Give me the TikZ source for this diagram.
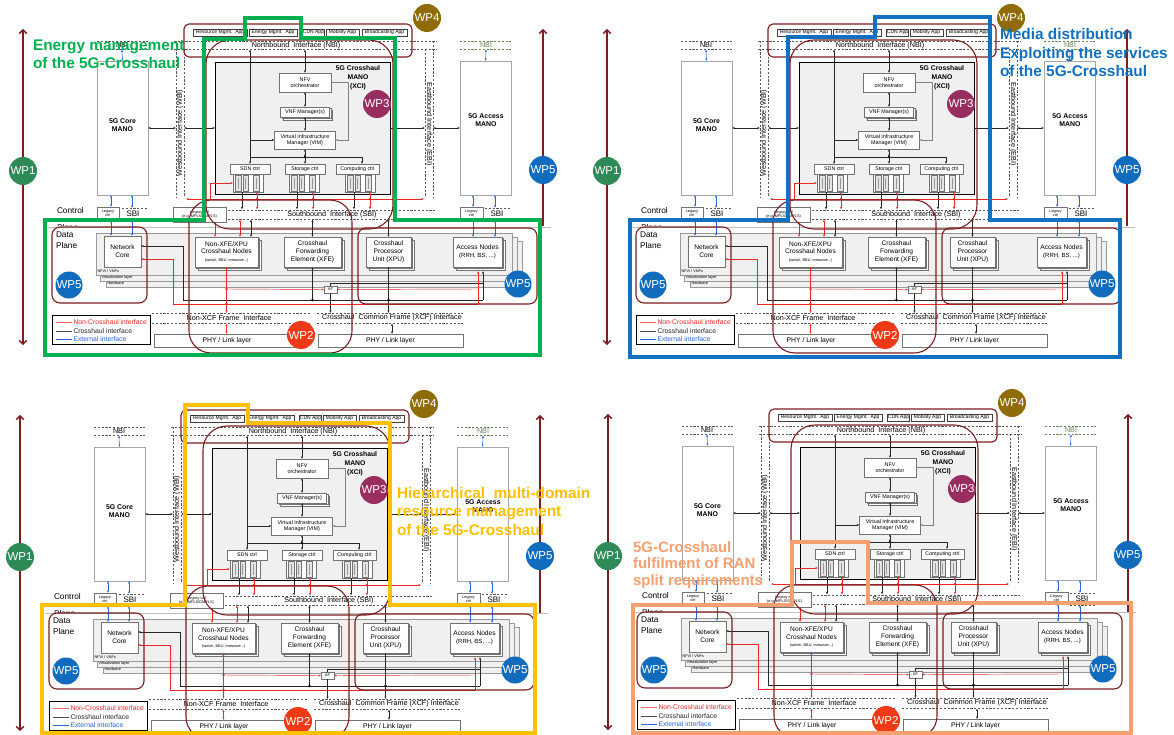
\documentclass[tikz,border=0pt]{standalone}
\usepackage{fontspec}
\setmainfont{Liberation Sans}
\usetikzlibrary{arrows.meta,shadows}

\definecolor{wpline}{RGB}{122,30,32}
\definecolor{wpone}{RGB}{46,139,87}
\definecolor{wptwo}{RGB}{240,58,23}
\definecolor{wpthree}{RGB}{152,45,96}
\definecolor{wpfour}{RGB}{143,108,8}
\definecolor{wpfive}{RGB}{18,108,190}
\definecolor{ncred}{RGB}{235,40,40}
\definecolor{extblue}{RGB}{40,100,220}
\definecolor{hlgreen}{RGB}{0,176,80}
\definecolor{hlblue}{RGB}{18,112,192}
\definecolor{hlgold}{RGB}{255,192,0}
\definecolor{hlsalmon}{RGB}{246,160,112}
\definecolor{nbigreen}{RGB}{110,135,90}

\newcommand\fsz[2]{\fontsize{#1}{#2}\selectfont}

\tikzset{
  every node/.style={inner sep=0pt,outer sep=0pt},
  wparrow/.style={wpline,line width=1.5pt,{Straight Barb[length=3.5pt,width=7.5pt]}-{Straight Barb[length=3.5pt,width=7.5pt]}},
  wp/.style={circle,minimum size=28pt,text=white,font=\fsz{11.5}{12}},
  wpzone/.style={draw=wpline,line width=1.1pt,rounded corners=#1},
  gbox/.style={draw=black!55,fill=white,line width=0.45pt,align=center},
  stackbox/.style={gbox,double copy shadow={shadow xshift=1.6pt,shadow yshift=-1.6pt}},
  app/.style={draw=black!75,fill=white,line width=0.4pt,minimum height=7.5pt,font=\fsz{5}{6}},
  iface/.style={black!65,line width=0.5pt,dash pattern=on 2.2pt off 1.6pt},
  conn/.style={black!85,line width=0.45pt},
  arr/.style={-{Latex[length=2.4pt,width=2.2pt]}},
  darr/.style={{Latex[length=2.4pt,width=2.2pt]}-{Latex[length=2.4pt,width=2.2pt]}},
  redc/.style={ncred,line width=0.45pt},
  bluec/.style={extblue,line width=0.5pt},
  lbl/.style={font=\fsz{7.2}{8}},
  plane/.style={anchor=west,font=\fsz{8.3}{9}},
  hlline/.style={line width=4pt},
  hltext/.style={font=\fsz{15.4}{18}\bfseries,anchor=base west},
}

% three plug-in modules under a controller
\newcommand\plugs[1]{%
  \draw[black!55,fill=white,line width=0.4pt] (#1-15,174) rectangle (#1+15,192);
  \foreach \dx in {-12.5,-5,5.5}{%
    \draw[black!55,fill=black!10,line width=0.35pt] (#1+\dx,175.5) rectangle (#1+\dx+5.5,191);
    \draw[black!40,line width=1pt] (#1+\dx+2.75,178) -- (#1+\dx+2.75,189);
  }%
}

% one complete 5G-Crosshaul architecture panel; #1 prefixes the node names
\newcommand\xhpanel[1]{%
  % work-package axes
  \coordinate (#1la) at (23,29);  \coordinate (#1lb) at (23,345);
  \coordinate (#1ra) at (543,29); \coordinate (#1rb) at (543,345);
  \draw[wparrow] (#1lb) -- (#1la);
  \draw[wparrow] (#1rb) -- (#1ra);
  % control plane label, data plane area
  \node[plane] (#1cpa) at (57,211) {Control};
  \node[plane] (#1cpb) at (57,228) {Plane};
  \fill[white] (47,226.5) rectangle (553,354);
  \draw[black!25,line width=0.5pt] (48,227) -- (551,227);
  \node[plane] (#1dpa) at (56,235) {Data};
  \node[plane] (#1dpb) at (56,245.5) {Plane};
  % NFVI layers
  \draw[black!40,fill=black!6,line width=0.4pt] (106,241) rectangle (522,287);
  \draw[black!40,fill=black!6,line width=0.4pt] (100,237) rectangle (517,281);
  \draw[black!40,fill=black!6,line width=0.4pt] (96,233) rectangle (512,275);
  \node[anchor=west,font=\fsz{3.8}{4}] (#1nfvi) at (97.5,271.3) {NFVI / VNFs};
  \node[anchor=west,font=\fsz{3.8}{4}] (#1virt) at (101.5,277.6) {Virtualization layer};
  \node[anchor=west,font=\fsz{3.8}{4}] (#1hw) at (107.5,283.6) {Hardware};
  % applications and northbound interface
  \node[app,minimum width=54pt] (#1ap1) at (220,32.5) {Resource Mgmt.\ \ App};
  \node[app,minimum width=48pt] (#1ap2) at (273,32.5) {Energy Mgmt.\ \ App};
  \node[app,minimum width=22pt] (#1ap3) at (313.5,32.5) {CDN App};
  \node[app,minimum width=33pt] (#1ap4) at (342.5,32.5) {Mobility App};
  \node[app,minimum width=45pt] (#1ap5) at (384.5,32.5) {Broadcasting App};
  \draw[iface] (174,41) -- (437,41);
  \draw[iface] (174,49) -- (437,49);
  \node[lbl] (#1nbi) at (296,45.3) {Northbound\ \ Interface (NBI)};
  \draw[iface] (97,41) -- (148,41);
  \draw[iface] (97,49) -- (148,49);
  \node[lbl] (#1nbic) at (122,45.3) {NBI};
  \draw[iface,draw=nbigreen] (460,41) -- (511,41);
  \draw[iface,draw=nbigreen] (460,49) -- (511,49);
  \node[lbl,text=nbigreen] (#1nbia) at (486,45.3) {NBI};
  % west- and east-bound interfaces
  \draw[iface] (176,41) -- (176,197);
  \draw[iface] (184,49) -- (184,197);
  \node[lbl,rotate=90] (#1wbi) at (180,133) {Westbound Interface (WBI)};
  \draw[iface] (425,49) -- (425,197);
  \draw[iface] (433,41) -- (433,197);
  \node[lbl,rotate=-90] (#1ebi) at (429,124) {Eastbound Interface (EBI)};
  % core and access MANO
  \node[gbox,draw=black!35,minimum width=51pt,minimum height=134pt] (#1core) at (122.5,128) {};
  \node[font=\bfseries\fsz{6.9}{8.4},align=center] (#1coret) at (122.5,125) {5G Core\\MANO};
  \node[gbox,draw=black!35,minimum width=51pt,minimum height=134pt] (#1acc) at (485.5,128) {};
  \node[font=\bfseries\fsz{6.9}{8.4},align=center] (#1acct) at (486,120) {5G Access\\MANO};
  % crosshaul MANO (XCI)
  \node[draw=black,line width=0.9pt,fill=black!6,minimum width=175pt,minimum height=132pt] (#1xci) at (302.5,128) {};
  \node[font=\bfseries\fsz{6.8}{8.8},align=center] (#1xcit) at (358,77.5) {5G Crosshaul\\MANO\\(XCI)};
  \node[gbox,minimum width=52pt,minimum height=19pt,font=\fsz{5.4}{6.4}] (#1nfv) at (305,82.5) {NFV\\orchestrator};
  \node[stackbox,minimum width=49pt,minimum height=10pt,font=\fsz{5.4}{6.4}] (#1vnf) at (305,112) {VNF Manager(s)};
  \node[gbox,minimum width=61pt,minimum height=18pt,font=\fsz{5.4}{6.4}] (#1vim) at (305,140) {Virtual Infrastructure\\Manager (VIM)};
  \node[gbox,minimum width=40pt,minimum height=10pt,font=\fsz{5.3}{6}] (#1sdn) at (250,169) {SDN ctrl};
  \node[gbox,minimum width=40pt,minimum height=10pt,font=\fsz{5.3}{6}] (#1sto) at (305,169) {Storage ctrl};
  \node[gbox,minimum width=43pt,minimum height=10pt,font=\fsz{5.3}{6}] (#1cmp) at (357.5,169) {Computing ctrl};
  \plugs{248}\plugs{304}\plugs{360}
  \coordinate (#1nbix) at (305,49.5);
  \coordinate (#1nbis) at (250,49.5);
  \coordinate (#1bus) at (305,157);
  \draw[conn,darr] (#1nbix) -- (#1nfv.north);
  \draw[conn,darr] (#1nfv.south) -- (#1vnf.north);
  \draw[conn,darr] (#1vnf.south) -- (#1vim.north);
  \draw[conn,black!50,arr] (#1nfv.east) -- (348,82.5) -- (348,140) -- (#1vim.east);
  \draw[conn,darr] (#1nbis) -- (#1sdn.north);
  \draw[conn,arr] (250,140) -- (#1vim.west);
  \draw[conn] (250,157) -- (362,157);
  \draw[conn,darr] (#1bus) -- (#1vim.south);
  \fill (#1bus) circle (1.3);
  \draw[conn,arr] (#1bus) -- (#1sto.north);
  \draw[conn,arr] (362,157) -- (362,164);
  % MANO to WBI / EBI
  \draw[conn,darr] (#1core.east) -- (176,128);
  \draw[conn,darr] (184,128) -- (#1xci.west);
  \draw[conn,arr] (#1xci.east) -- (425,128);
  \draw[conn,darr] (433,128) -- (#1acc.west);
  % controllers down to the southbound interface
  \foreach \bx/\rx in {242/257,297/313,354/370}{%
    \draw[conn,arr] (\bx,192) -- (\bx,209.5);
    \draw[redc,darr] (\rx,192) -- (\rx,209.5);
    \fill[ncred] (\rx,199) circle (1.3);
  }
  \draw[redc,darr] (186,199) -- (424,199);
  \draw[redc,arr] (210,199) -- (210,183) -- (233,183);
  % southbound interface and legacy controllers
  \draw[iface] (228,210) -- (437,210);
  \draw[iface] (228,219) -- (437,219);
  \node[lbl] (#1sbi) at (332,214.8) {Southbound\ \ Interface (SBI)};
  \node[gbox,minimum width=53pt,minimum height=15pt,font=\fsz{3.8}{4.4}] (#1lgm) at (199.5,214.5) {Legacy ctrl\\(e.g.\ MPLS/GMPLS)};
  \node[gbox,minimum width=22pt,minimum height=13pt,font=\fsz{3.8}{4.4}] (#1lgc) at (108,213.5) {Legacy\\ctrl};
  \draw[iface] (122,208) -- (148,208);
  \draw[iface] (122,220) -- (148,220);
  \node[font=\fsz{8}{9}] (#1sbic) at (133,214) {SBI};
  \node[gbox,minimum width=23pt,minimum height=12pt,font=\fsz{3.8}{4.4}] (#1lga) at (471.5,213) {Legacy\\ctrl};
  \draw[iface] (485,208) -- (511,208);
  \draw[iface] (485,220) -- (511,220);
  \node[font=\fsz{8}{9}] (#1sbia) at (497,214) {SBI};
  % external (blue) interfaces
  \draw[bluec,darr] (122,49.5) -- (#1core.north);
  \draw[bluec,darr] (486,49.5) -- (#1acc.north);
  \draw[bluec,darr] (111,195) -- (111,207);
  \draw[bluec,darr] (111,220) -- (111,236);
  \draw[bluec,darr] (132,195) -- (132,208);
  \draw[bluec,darr] (132,220) -- (132,236);
  \draw[bluec,darr] (473,195) -- (473,207);
  \draw[bluec,darr] (473,219) -- (473,237);
  \draw[bluec,darr] (495,195) -- (495,208);
  \draw[bluec,darr] (495,220) -- (495,237);
  % data plane nodes
  \node[gbox,minimum width=37pt,minimum height=31pt,font=\fsz{6.6}{7.8}] (#1nc) at (122.5,251.5) {Network\\Core};
  \node[stackbox,minimum width=63pt,minimum height=30pt,font=\fsz{6.6}{7.8}] (#1nx) at (226.5,252) {Non-XFE/XPU\\Crosshaul Nodes\\{\fsz{3.8}{4.4}(switch, BBU, mmwave...)}};
  \node[stackbox,minimum width=57pt,minimum height=30pt,font=\fsz{6.6}{7.8}] (#1xfe) at (312.5,252) {Crosshaul\\Forwarding\\Element (XFE)};
  \node[stackbox,minimum width=45pt,minimum height=30pt,font=\fsz{6.6}{7.8}] (#1xpu) at (388.5,252) {Crosshaul\\Processor\\Unit (XPU)};
  \node[stackbox,minimum width=49pt,minimum height=30pt,font=\fsz{6.6}{7.8}] (#1an) at (477.5,252) {Access Nodes\\{\fsz{6}{7}(RRH, BS, ...)}};
  \draw[redc,darr] (215,222) -- (#1nx.north -| 215,0);
  \draw[redc,darr] (240,219.5) -- (240,237);
  \draw[conn,darr] (251,219.5) -- (251,237);
  \draw[conn,darr] (312.5,219.5) -- (#1xfe.north);
  \draw[conn,darr] (388.5,219.5) -- (#1xpu.north);
  \node[gbox,minimum width=13pt,minimum height=6.5pt,font=\fsz{4}{4.5}] (#1af) at (330.5,289.5) {AF};
  % crosshaul (black) data plane wiring
  \draw[conn,arr] (483,300) -- (183,300) -- (183,246) -- ([yshift=5.5pt]#1nc.east);
  \draw[conn,arr] (483,300) -- (483,271);
  \draw[conn,arr] (312.5,300) -- (#1xfe.south);
  \fill (312.5,300) circle (1.3);
  \draw[conn,arr] (#1xpu.south) -- (388.5,313);
  \fill (388.5,300) circle (1.3);
  \draw[conn] (#1af.north) -- (330.5,283) -- (483,283);
  \draw[conn,arr] (#1af.south) -- (330.5,313);
  % non-crosshaul (red) data plane wiring
  \draw[redc,arr] (478,304) -- (173,304) -- (173,259) -- ([yshift=-7.5pt]#1nc.east);
  \draw[redc,arr] (478,304) -- (478,271);
  \draw[redc,darr] (#1nx.south) -- (226.5,313);
  \fill[ncred] (226.5,289) circle (1.3);
  \fill[ncred] (226.5,304) circle (1.3);
  \draw[redc,arr] (226.5,289) -- (#1af.west);
  \draw[redc,arr] (478,289) -- (#1af.east);
  % frame interfaces and physical layer
  \draw[iface] (152,313) -- (310,313);
  \draw[iface] (152,323) -- (310,323);
  \node[lbl] (#1nxcf) at (229,318) {Non-XCF Frame\ \ Interface};
  \draw[iface] (317,313) -- (463,313);
  \draw[iface] (317,323) -- (463,323);
  \node[lbl] (#1xcf) at (392,318) {Crosshaul\ \ Common Frame (XCF) Interface};
  \node[gbox,minimum width=146pt,minimum height=13pt,font=\fsz{6.8}{7}] (#1phya) at (227,340.5) {PHY / Link layer};
  \node[gbox,minimum width=145pt,minimum height=13pt,font=\fsz{6.8}{7}] (#1phyb) at (390.5,340.5) {PHY / Link layer};
  \draw[redc,darr] (226.5,323.5) -- (#1phya.north -| 226.5,0);
  \draw[conn,darr] (392,323.5) -- (392,334);
  % legend
  \node[draw=black,line width=0.9pt,minimum width=98pt,minimum height=29pt] (#1leg) at (101,329.5) {};
  \draw[ncred!70,line width=0.6pt] (56,322.5) -- (72,322.5);
  \draw[black!70,line width=0.6pt] (56,330.8) -- (72,330.8);
  \draw[extblue,line width=0.6pt] (56,339.2) -- (72,339.2);
  \node[anchor=west,text=ncred,font=\fsz{6.8}{7}] (#1lg1) at (73.5,322.5) {Non-Crosshaul interface};
  \node[anchor=west,text=black!85,font=\fsz{6.8}{7}] (#1lg2) at (73.5,330.8) {Crosshaul interface};
  \node[anchor=west,text=extblue,font=\fsz{6.8}{7}] (#1lg3) at (73.5,339.2) {External interface};
  % work-package zones
  \draw[wpzone=5pt] (184,24) rectangle (412,57);
  \draw[wpzone=24pt] (206,40) rectangle (393,229);
  \draw[wpzone=22pt] (189,200) rectangle (352,353);
  \draw[wpzone=8pt] (52,227) rectangle (147,303);
  \draw[wpzone=8pt] (358,228) rectangle (537,304);
  % work-package badges
  \node[wp,fill=wpone] (#1wp1) at (23,171) {WP1};
  \node[wp,fill=wpfive] (#1wp5) at (543,170) {WP5};
  \node[wp,fill=wpfour] (#1wp4) at (427,18) {WP4};
  \node[wp,fill=wpthree] (#1wp3) at (377,104) {WP3};
  \node[wp,fill=wptwo] (#1wp2) at (301,335) {WP2};
  \node[wp,fill=wpfive,minimum size=27pt] (#1wp5a) at (69,285) {WP5};
  \node[wp,fill=wpfive,minimum size=27pt] (#1wp5b) at (518,284) {WP5};
}

\begin{document}
\begin{tikzpicture}[x=1pt,y=-1pt]
\useasboundingbox (0,0) rectangle (1174,735);
\fill[white] (0,0) rectangle (1174,735);

\xhpanel{a}
\begin{scope}[shift={(584,0)}]\xhpanel{b}\end{scope}
\begin{scope}[shift={(-3,386)}]\xhpanel{c}\end{scope}
\begin{scope}[shift={(585,385)}]\xhpanel{d}\end{scope}

% energy management
\draw[hlline,hlgreen] (204,220) -- (204,39) -- (245,39) -- (245,18) -- (301,18) -- (301,38) -- (395,38) -- (395,220) -- (540,220) -- (540,355) -- (45,355) -- (45,220) -- cycle;
\node[hltext,text=hlgreen] (ga) at (33,51) {Energy management};
\node[hltext,text=hlgreen] (gb) at (33,68.5) {of the 5G-Crosshaul};

% media distribution
\draw[hlline,hlblue] (788,220) -- (788,37) -- (875,37) -- (875,17) -- (990,17) -- (990,220) -- (1120,220) -- (1120,357) -- (630,357) -- (630,220) -- cycle;
\node[hltext,text=hlblue] (ba) at (1000,40) {Media distribution};
\node[hltext,text=hlblue] (bb) at (1000,58.5) {Exploiting the services};
\node[hltext,text=hlblue] (bc) at (1000,77) {of the 5G-Crosshaul};

% hierarchical resource management
\draw[hlline,hlgold] (185,605) -- (185,405) -- (248,405) -- (248,423) -- (390,423) -- (390,605) -- (535,605) -- (535,733) -- (42,733) -- (42,605) -- cycle;
\node[hltext,text=hlgold] (ya) at (397,498) {Hierarchical\ \ multi-domain};
\node[hltext,text=hlgold] (yb) at (397,516.5) {resource management};
\node[hltext,text=hlgold] (yc) at (397,535) {of the 5G-Crosshaul};

% RAN split requirements
\draw[hlline,hlsalmon] (792,605) -- (792,542) -- (868,542) -- (868,603) -- (1131,603) -- (1131,733) -- (633,733) -- (633,605) -- cycle;
\node[hltext,text=hlsalmon,font=\fsz{15}{17}\bfseries] (sa) at (633,552) {5G-Crosshaul};
\node[hltext,text=hlsalmon,font=\fsz{15}{17}\bfseries] (sb) at (633,568.5) {fulfilment of RAN};
\node[hltext,text=hlsalmon,font=\fsz{15}{17}\bfseries] (sc) at (633,585) {split requirements};
\end{tikzpicture}
\end{document}
